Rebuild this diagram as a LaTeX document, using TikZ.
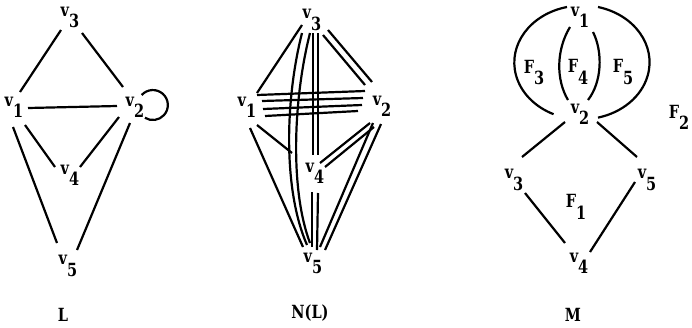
\documentclass[tikz,border=0pt]{standalone}
\usepackage{fontspec}
\usepackage{graphicx}
\newfontfamily\labfont{DejaVu Serif Bold}
\newcommand\vlab[2]{\scalebox{1}[1.25]{#1\raisebox{-9pt}{#2}}}
\newcommand\tlab[1]{\scalebox{1}[1.25]{#1}}
\begin{document}
\begin{tikzpicture}[x=1pt,y=-1pt,
  vx/.style={inner sep=0pt, font=\labfont\fontsize{14.5}{17}\selectfont},
  edge/.style={line width=2.2pt}]
\useasboundingbox (0,0) rectangle (692,327);
% ---------- L ----------
\node[vx] (L3) at (70,17.5) {\vlab{v}{3}};
\node[vx] (L1) at (14,107.5) {\vlab{v}{1}};
\node[vx] (L2) at (135,107.5) {\vlab{v}{2}};
\node[vx] (L4) at (70,175) {\vlab{v}{4}};
\node[vx] (L5) at (68,266) {\vlab{v}{5}};
\node[vx] (Lname) at (63,315) {\tlab{L}};
\draw[edge] ([shift={(-9,12.5)}]L3.center) -- ([shift={(6,-15.5)}]L1.center);
\draw[edge] ([shift={(12,15.5)}]L3.center) -- ([shift={(-12,-20.5)}]L2.center);
\draw[edge] ([shift={(14,0.5)}]L1.center) -- ([shift={(-18,-1.5)}]L2.center);
\draw[edge] ([shift={(11,17.5)}]L1.center) -- ([shift={(-15,-8)}]L4.center);
\draw[edge] ([shift={(-16,9.5)}]L2.center) -- ([shift={(10,-8)}]L4.center);
\draw[edge] ([shift={(-1,19.5)}]L1.center) -- ([shift={(-11,-23)}]L5.center);
\draw[edge] ([shift={(-5,15.5)}]L2.center) -- ([shift={(9,-16)}]L5.center);
\draw[edge] ([shift={(6.7,-12.5)}]L2.center) arc[start angle=-138, end angle=122, radius=15];
% ---------- N(L) ----------
\node[vx] (N3) at (312,20) {\vlab{v}{3}};
\node[vx] (N1) at (247,107.5) {\vlab{v}{1}};
\node[vx] (N2) at (382,106.5) {\vlab{v}{2}};
\node[vx] (N4) at (315,173.5) {\vlab{v}{4}};
\node[vx] (N5) at (313,263.5) {\vlab{v}{5}};
\node[vx] (Nname) at (310,313) {\tlab{N(L)}};
\draw[edge] ([shift={(-10,5)}]N3.center) -- ([shift={(10,-14.5)}]N1.center);
\draw[edge] ([shift={(16,10)}]N3.center) -- ([shift={(-10,-24.5)}]N2.center);
\draw[edge] ([shift={(11,15)}]N3.center) -- ([shift={(-17,-21.5)}]N2.center);
\draw[edge] ([shift={(1,13)}]N3.center) -- ([shift={(-2,-18.5)}]N4.center);
\draw[edge] ([shift={(6,13)}]N3.center) -- ([shift={(3,-18.5)}]N4.center);
\draw[edge] ([shift={(-10,13)}]N3.center) .. controls +(-17,67) and +(-24,-55) .. ([shift={(-6,-18.5)}]N5.center);
\draw[edge] ([shift={(-2,13)}]N3.center) .. controls +(-17,67) and +(-20,-53) .. ([shift={(-3,-20.5)}]N5.center);
\draw[edge] ([shift={(10,-12.5)}]N1.center) -- ([shift={(-17,-15.5)}]N2.center);
\draw[edge] ([shift={(15,-6.5)}]N1.center) -- ([shift={(-19,-8.5)}]N2.center);
\draw[edge] ([shift={(16,1.5)}]N1.center) -- ([shift={(-20,-1.5)}]N2.center);
\draw[edge] ([shift={(18,8.5)}]N1.center) -- ([shift={(-24,4.5)}]N2.center);
\draw[edge] ([shift={(10,17.5)}]N1.center) -- ([shift={(-23,-20.5)}]N4.center);
\draw[edge] ([shift={(3,20.5)}]N1.center) -- ([shift={(-10,-16.5)}]N5.center);
\draw[edge] ([shift={(-12,16.5)}]N2.center) -- ([shift={(5,-10.5)}]N4.center);
\draw[edge] ([shift={(-8,20.5)}]N2.center) -- ([shift={(10,-6.5)}]N4.center);
\draw[edge] ([shift={(-9,16.5)}]N2.center) -- ([shift={(7,-16.5)}]N5.center);
\draw[edge] ([shift={(-1,17.5)}]N2.center) -- ([shift={(12,-13.5)}]N5.center);
\draw[edge] ([shift={(-3,18.5)}]N4.center) -- ([shift={(-1,-16.5)}]N5.center);
\draw[edge] ([shift={(3,19.5)}]N4.center) -- ([shift={(4,-13.5)}]N5.center);
% ---------- M ----------
\node[vx] (M1) at (580,17) {\vlab{v}{1}};
\node[vx] (M2) at (580,114) {\vlab{v}{2}};
\node[vx] (M3) at (514,180) {\vlab{v}{3}};
\node[vx] (M5) at (647,180) {\vlab{v}{5}};
\node[vx] (M4) at (579,263) {\vlab{v}{4}};
\node[vx] (F3) at (534,72.5) {\vlab{F}{3}};
\node[vx] (F4) at (578,72) {\vlab{F}{4}};
\node[vx] (F5) at (623,72) {\vlab{F}{5}};
\node[vx] (F2) at (679,117.5) {\vlab{F}{2}};
\node[vx] (F1) at (576,207) {\vlab{F}{1}};
\node[vx] (Mname) at (573,314.5) {\tlab{M}};
\draw[edge] ([shift={(-13,-10)}]M1.center) arc[start angle=257, end angle=115, x radius=68, y radius=57];
\draw[edge] ([shift={(18,-10)}]M1.center) arc[start angle=-76, end angle=76, x radius=68, y radius=57];
\draw[edge] ([shift={(-10,10)}]M1.center) .. controls +(-14,23) and +(-12,-20) .. ([shift={(-12,-14)}]M2.center);
\draw[edge] ([shift={(13,15)}]M1.center) .. controls +(10,20) and +(14,-18) .. ([shift={(8,-14)}]M2.center);
\draw[edge] ([shift={(-15,8)}]M2.center) -- ([shift={(8,-23)}]M3.center);
\draw[edge] ([shift={(17,8)}]M2.center) -- ([shift={(-10,-23)}]M5.center);
\draw[edge] ([shift={(11,13)}]M3.center) -- ([shift={(-14,-20)}]M4.center);
\draw[edge] ([shift={(-12,2)}]M5.center) -- ([shift={(11,-11)}]M4.center);
\end{tikzpicture}
\end{document}
